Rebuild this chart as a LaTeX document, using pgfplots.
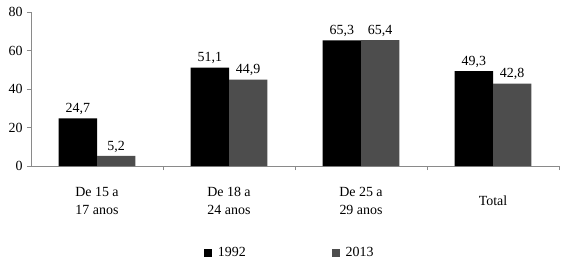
\documentclass[border=0pt]{standalone}
\usepackage{fontspec}
\setmainfont{Liberation Serif}
\usepackage{pgfplots}
\pgfplotsset{compat=1.18}
\definecolor{bargray}{HTML}{4D4D4D}
\definecolor{axgray}{HTML}{8A8A8A}
\newcommand{\cf}{\fontsize{14}{18}\selectfont}
\begin{document}
\begin{tikzpicture}
\useasboundingbox (-31bp,-97bp) rectangle (539bp,166bp);
\begin{axis}[
  at={(0,0)}, anchor=south west, scale only axis,
  width=528bp, height=154bp,
  xmin=-0.5, xmax=3.5, ymin=0, ymax=80,
  axis lines=left, axis line style={-, draw=axgray, line width=0.8pt},
  ybar, bar width=0.29,
  ytick={0,20,40,60,80},
  xtick={0,1,2,3},
  xticklabels={{De 15 a\\17 anos},{De 18 a\\24 anos},{De 25 a\\29 anos},{Total}},
  x tick style={draw=none},
  extra x ticks={0.5,1.5,2.5,3.5},
  extra x tick labels={},
  extra x tick style={xtick style={draw=axgray, line width=0.8pt}},
  y tick style={draw=axgray, line width=0.8pt},
  tick align=outside, major tick length=4bp,
  /pgf/number format/assume math mode=true,
  tick label style={font=\cf, text=black},
  xticklabel style={align=center, anchor=center, yshift=-31bp},
  yticklabel style={xshift=-1bp},
  nodes near coords={\pgfmathprintnumber[use comma, fixed, fixed zerofill, precision=1, assume math mode=true]{\pgfplotspointmeta}},
  every node near coord/.append style={font=\cf, text=black},
  legend style={at={(0.49,-0.565)}, anchor=center, draw=none, fill=none, font=\cf,
    legend columns=2,
    /tikz/every odd column/.append style={column sep=4bp},
    /tikz/every even column/.append style={column sep=84bp}},
  legend image code/.code={\draw[#1,draw=none] (0bp,-4bp) rectangle (8bp,4bp);},
]
\addplot[fill=black, draw=none, bar shift=-0.145] coordinates {(0,24.7) (1,51.1) (2,65.3) (3,49.3)};
\addplot[fill=bargray, draw=none, bar shift=0.145] coordinates {(0,5.2) (1,44.9) (2,65.4) (3,42.8)};
\legend{1992,2013}
\end{axis}
\end{tikzpicture}
\end{document}
